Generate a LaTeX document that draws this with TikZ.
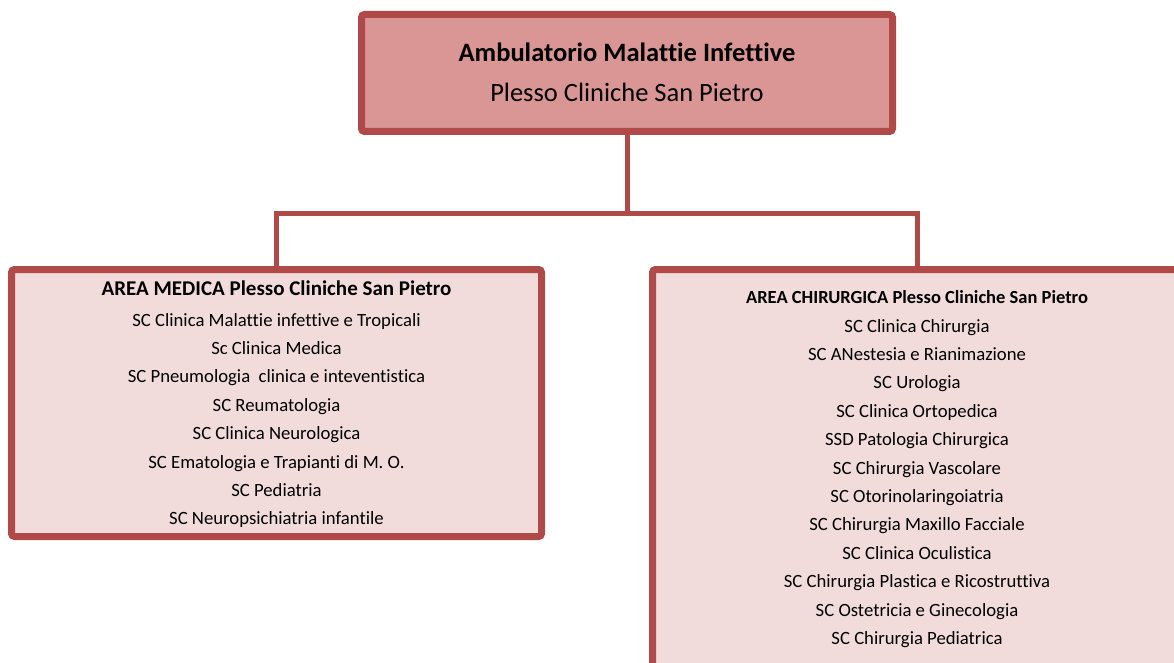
\documentclass[tikz,border=0pt]{standalone}
\usepackage{fontspec}
\setmainfont{Carlito}[Ligatures=NoCommon]
\usetikzlibrary{shadows}
\definecolor{bordo}{HTML}{AF4A48}
\definecolor{fillTop}{HTML}{D99694}
\definecolor{fillLow}{HTML}{F2DCDB}
\begin{document}
\begin{tikzpicture}[x=1pt,y=-1pt,
  box/.style={draw=bordo, line width=7pt, rounded corners=3pt, inner sep=0pt,
    drop shadow={shadow xshift=2pt, shadow yshift=-3pt, opacity=0.25}},
  conn/.style={draw=bordo, line width=5pt, line join=miter},
  txt/.style={anchor=base, inner sep=0pt, text=black}]
\useasboundingbox (0,0) rectangle (1174,663);
\clip (0,0) rectangle (1174,663);
\coordinate (j) at (627,213);
% boxes
\node[box, fill=fillTop, minimum width=531pt, minimum height=117pt] (top) at (627,73) {};
\node[box, fill=fillLow, minimum width=530pt, minimum height=267pt] (med) at (276.5,403) {};
\node[box, fill=fillLow, minimum width=529pt, minimum height=400pt] (chir) at (917,469.5) {};
% connectors
\draw[conn] (top.south) -- (j);
\draw[conn] (med.north) |- (j) -| (chir.north);
% texts
\node[txt, font=\fontsize{26.5}{40}\selectfont] (ttl) at (627,62)
  {\begin{tabular}[t]{@{}c@{}}\textbf{Ambulatorio Malattie Infettive}\\ Plesso Cliniche San Pietro\end{tabular}};
\node[txt, font=\fontsize{18.7}{28.4}\selectfont] (medtxt) at (276.5,295)
  {\begin{tabular}[t]{@{}c@{}}{\fontsize{21}{28.4}\selectfont\bfseries AREA MEDICA Plesso Cliniche San Pietro}\\[2.6pt]
  SC Clinica Malattie infettive e Tropicali\\
  Sc Clinica Medica\\
  SC Pneumologia\ \ clinica e inteventistica\\
  SC Reumatologia\\
  SC Clinica Neurologica\\
  SC Ematologia e Trapianti di M. O.\\
  SC Pediatria\\
  SC Neuropsichiatria infantile\end{tabular}};
\node[txt, font=\fontsize{18.7}{28.4}\selectfont] (chirtxt) at (917,303)
  {\begin{tabular}[t]{@{}c@{}}{\fontsize{18.5}{28.4}\selectfont\bfseries AREA CHIRURGICA Plesso Cliniche San Pietro}\\[0.6pt]
  SC Clinica Chirurgia\\
  SC ANestesia e Rianimazione\\
  SC Urologia\\
  SC Clinica Ortopedica\\
  SSD Patologia Chirurgica\\
  SC Chirurgia Vascolare\\
  SC Otorinolaringoiatria\\
  SC Chirurgia Maxillo Facciale\\
  SC Clinica Oculistica\\
  SC Chirurgia Plastica e Ricostruttiva\\
  SC Ostetricia e Ginecologia\\
  SC Chirurgia Pediatrica\end{tabular}};
\end{tikzpicture}
\end{document}
